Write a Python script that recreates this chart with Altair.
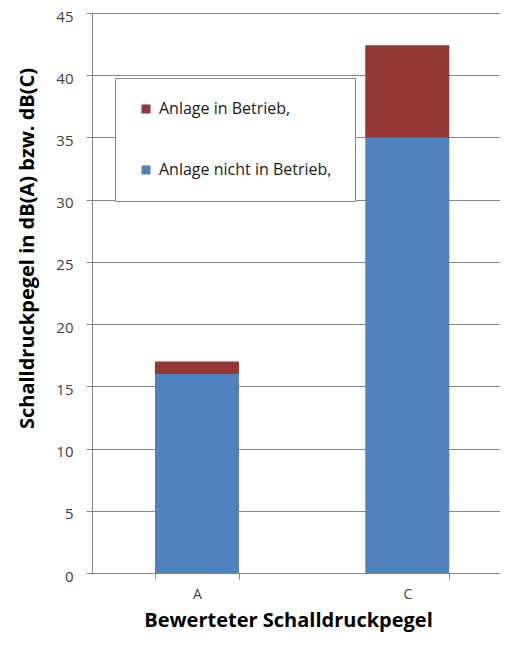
import altair as alt
import pandas as pd

# --- data ---
categories = ["A", "C"]
series_names = ["Anlage  in Betrieb,", "Anlage nicht in Betrieb,"]
series_colors = ["#953735", "#4F81BD"]
nicht_in_betrieb = [16.0, 35.0]          # blue, bottom segment
in_betrieb_zusatz = [1.0, 7.4]           # red, stacked on top
y_ticks = [0, 5, 10, 15, 20, 25, 30, 35, 40, 45]

rows = []
for c, v in zip(categories, nicht_in_betrieb):
    rows.append({"kat": c, "serie": series_names[1], "wert": v, "ord": 0})
for c, v in zip(categories, in_betrieb_zusatz):
    rows.append({"kat": c, "serie": series_names[0], "wert": v, "ord": 1})
df = pd.DataFrame(rows)

FONT = "Open Sans"
GREY = "#868686"
TXT = "#404040"

chart = (
    alt.Chart(df)
    .mark_bar()
    .encode(
        x=alt.X(
            "kat:N",
            sort=categories,
            scale=alt.Scale(paddingInner=0.6006, paddingOuter=0.2703, align=0.554),
            axis=alt.Axis(
                title="Bewerteter Schalldruckpegel",
                labelAngle=0,
                labelFontSize=14,
                labelColor=TXT,
                labelFont=FONT,
                labelPadding=8,
                tickBand="extent",
                tickSize=6,
                tickColor=GREY,
                domainColor=GREY,
                grid=False,
                titleFont=FONT,
                titleFontSize=20,
                titleFontWeight="bold",
                titleColor="black",
                titleX=196,
                titleY=47,
                titleBaseline="middle",
                titleAlign="center",
            ),
        ),
        y=alt.Y(
            "wert:Q",
            stack="zero",
            scale=alt.Scale(domain=[0, 45], nice=False),
            axis=alt.Axis(
                values=y_ticks,
                title="Schalldruckpegel in dB(A) bzw. dB(C)",
                labelFontSize=15,
                labelColor=TXT,
                labelFont=FONT,
                labelPadding=13,
                labelOffset=3,
                tickSize=6,
                tickColor=GREY,
                domainColor=GREY,
                grid=True,
                gridColor=GREY,
                titleFont=FONT,
                titleFontSize=20,
                titleFontWeight="bold",
                titleColor="black",
                titleAngle=270,
                titleX=-65,
                titleY=235,
                titleAlign="center",
                titleBaseline="middle",
            ),
        ),
        color=alt.Color(
            "serie:N",
            scale=alt.Scale(domain=series_names, range=series_colors),
            legend=alt.Legend(
                title=None,
                orient="none",
                legendX=23,
                legendY=65,
                strokeColor=GREY,
                fillColor="white",
                padding=23,
                symbolType="square",
                symbolSize=81,
                symbolStrokeWidth=0,
                labelFont=FONT,
                labelFontSize=16,
                labelLimit=400,
                labelColor="#1a1a1a",
                labelOffset=5,
                rowPadding=45,
            ),
        ),
        order=alt.Order("ord:Q", sort="ascending"),
    )
    .properties(
        width=408,
        height=560,
        autosize=alt.AutoSizeParams(type="none"),
        padding={"left": 84, "top": 5, "right": 0, "bottom": 59},
        background="white",
    )
    .configure_view(stroke=None)
)

chart.save("out.html", embed_options={"renderer": "svg", "actions": False})
